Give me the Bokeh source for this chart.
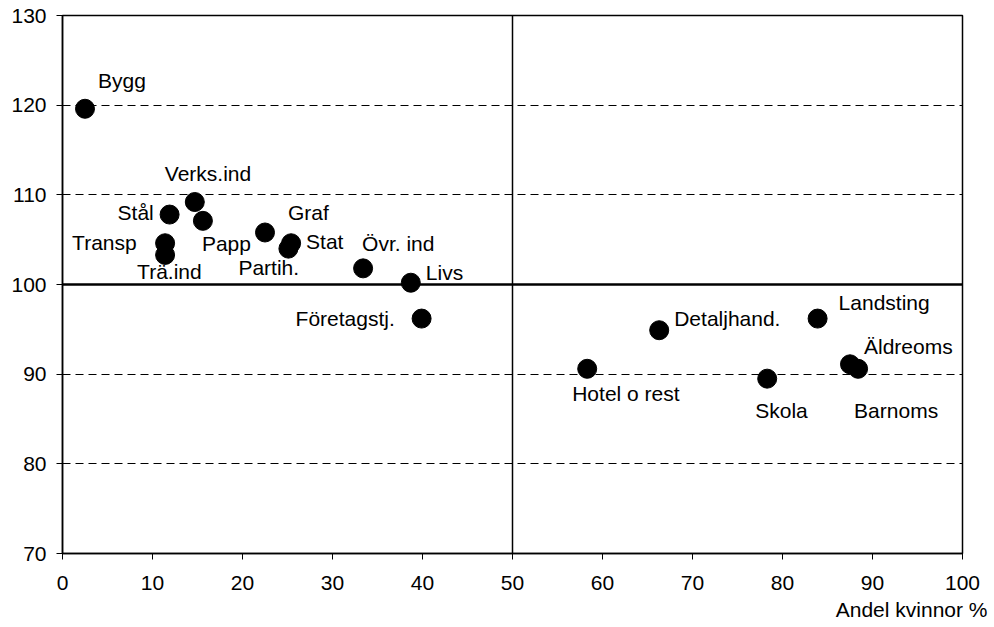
from bokeh.plotting import figure
from bokeh.models import ColumnDataSource, Span, Title, FixedTicker, Range1d
from bokeh.core.properties import value
from bokeh.embed import file_html
from bokeh.resources import INLINE

# --- data ---
sectors = ["Bygg", "Stål", "Verks.ind", "Papp", "Transp", "Trä.ind", "Graf", "Stat",
           "Partih.", "Övr. ind", "Livs", "Företagstj.", "Detaljhand.", "Hotel o rest",
           "Skola", "Landsting", "Äldreoms", "Barnoms"]
andel_kvinnor = [2.5, 11.9, 14.7, 15.6, 11.4, 11.4, 22.5, 25.4,
                 25.1, 33.4, 38.7, 39.9, 66.3, 58.3,
                 78.3, 83.9, 87.5, 88.4]
index_value = [119.6, 107.8, 109.2, 107.1, 104.6, 103.3, 105.8, 104.6,
               104.0, 101.8, 100.2, 96.2, 94.9, 90.6,
               89.5, 96.2, 91.1, 90.6]
x_ticks = [0, 10, 20, 30, 40, 50, 60, 70, 80, 90, 100]
y_ticks = [70, 80, 90, 100, 110, 120, 130]
grid_lines = [80, 90, 110, 120]
x_label = "Andel kvinnor %"

# --- label placement (screen px offsets from marker centre) ---
label_dx = [13, -52, -30, -1, -93, -28, 23, 15, -50, -1, 15, -126, 15, -15, -12, 21, 14, -4]
label_dy = [-28, -2, -29, 23, -1, 17, -20, -2, 19, -25, -10, 0, -12, 25, 32, -16, -18, 42]

FONT = "Liberation Sans"

src = ColumnDataSource(dict(x=andel_kvinnor, y=index_value, name=sectors,
                            dx=label_dx, dy=label_dy))

p = figure(width=994, height=627, x_range=Range1d(0, 100), y_range=Range1d(70, 130),
           output_backend="svg", toolbar_location=None,
           min_border_left=62, min_border_right=32, min_border_top=15, min_border_bottom=74)
p.background_fill_color = "white"
p.border_fill_color = "white"
p.outline_line_color = "black"
p.outline_line_width = 1.5

# axes
for ax in (p.xaxis[0], p.yaxis[0]):
    ax.axis_line_color = "black"
    ax.axis_line_width = 1.5
    ax.major_tick_line_color = "black"
    ax.major_tick_out = 6
    ax.major_tick_in = 0
    ax.minor_tick_line_color = None
    ax.major_label_text_font = FONT
    ax.major_label_text_font_size = "21px"
    ax.major_label_text_color = "black"
p.xaxis[0].major_label_standoff = 16
p.yaxis[0].major_label_standoff = 10
p.xaxis.ticker = FixedTicker(ticks=x_ticks)
p.yaxis.ticker = FixedTicker(ticks=y_ticks)

# grid
p.xgrid.grid_line_color = None
p.ygrid.ticker = FixedTicker(ticks=grid_lines)
p.ygrid.grid_line_color = "black"
p.ygrid.grid_line_dash = "8 5"
p.ygrid.grid_line_width = 1

# reference lines
p.add_layout(Span(location=100, dimension="width", line_color="black", line_width=2.5))
p.add_layout(Span(location=50, dimension="height", line_color="black", line_width=1.5))

# points
p.scatter("x", "y", source=src, size=19, fill_color="black", line_color="black")
p.text("x", "y", text="name", source=src, x_offset="dx", y_offset="dy",
       text_align="left", text_baseline="middle",
       text_font=value(FONT), text_font_size="21px", text_color="black")

# x-axis title, right aligned
p.add_layout(Title(text=x_label, align="right", text_font=FONT, text_font_size="21px",
                   text_font_style="normal", text_color="black", standoff=6,
                   offset=-25), "below")

open("out.html", "w").write(file_html(p, INLINE))
